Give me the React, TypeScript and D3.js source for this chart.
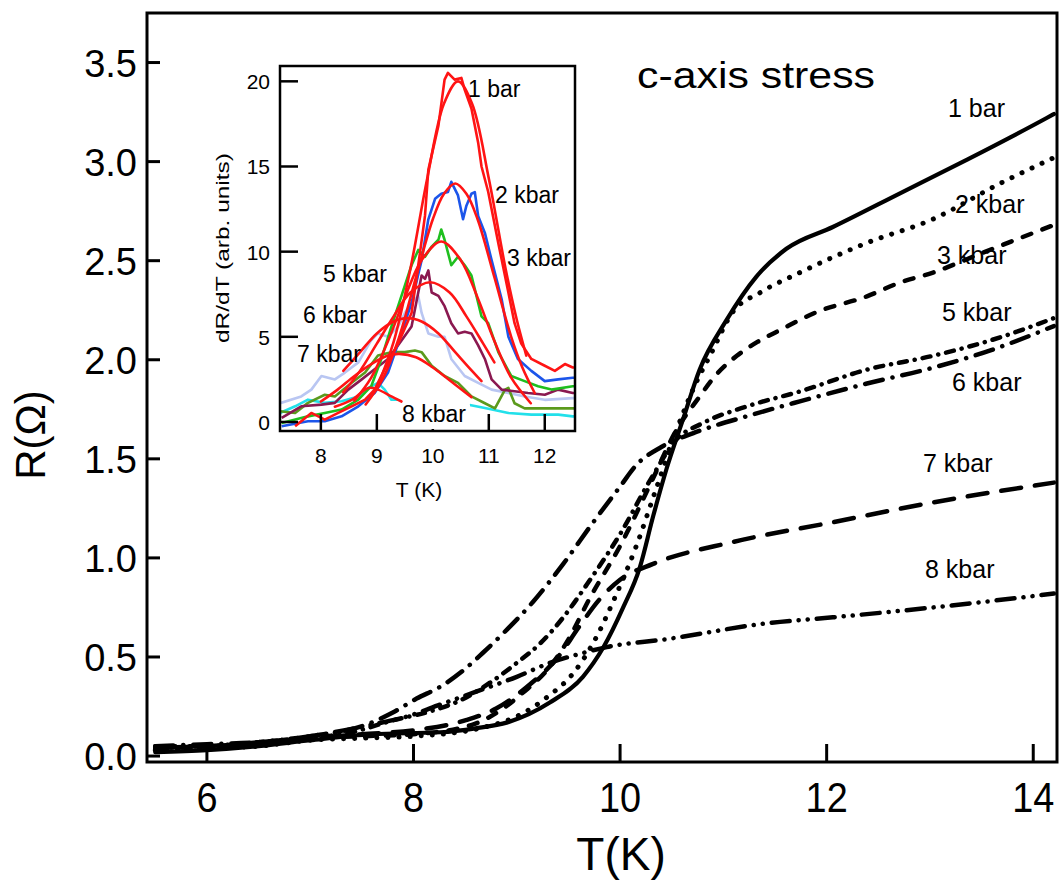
import React from "react";
import * as d3 from "d3";

// ---------- Main panel data: [T (K), R (Ohm)] ----------
const r1bar: [number, number][] = [[5.5,0.02],[6,0.03],[6.5,0.05],[7,0.08],[7.6,0.11],[8.26,0.12],[8.6,0.14],[8.91,0.17],[9.32,0.27],[9.64,0.4],[9.84,0.55],[10.03,0.75],[10.19,0.95],[10.32,1.21],[10.45,1.45],[10.61,1.7],[10.77,1.95],[11.03,2.2],[11.32,2.42],[11.61,2.56],[12.06,2.67],[12.71,2.84],[13.36,3.01],[14.13,3.22],[14.2,3.24]];
const r2kbar: [number, number][] = [[5.5,0.03],[6,0.04],[6.5,0.05],[7,0.08],[7.5,0.09],[8,0.1],[8.64,0.14],[9.0,0.2],[9.3,0.3],[9.55,0.42],[9.75,0.58],[9.95,0.8],[10.15,1.05],[10.35,1.35],[10.55,1.65],[10.75,1.9],[10.87,2.02],[11.09,2.24],[11.36,2.34],[11.74,2.44],[12.39,2.59],[13.03,2.71],[13.68,2.89],[14.2,3.02]];
const r3kbar: [number, number][] = [[5.5,0.04],[6,0.05],[6.5,0.06],[7,0.09],[7.5,0.1],[8,0.11],[8.58,0.16],[8.84,0.23],[9.06,0.32],[9.32,0.45],[9.49,0.58],[9.71,0.8],[10.0,1.06],[10.3,1.38],[10.55,1.65],[10.75,1.8],[10.94,1.93],[11.13,2.02],[11.33,2.09],[11.55,2.15],[11.9,2.24],[12.39,2.32],[12.71,2.39],[13.03,2.44],[13.51,2.54],[14.0,2.64],[14.2,2.68]];
const r5kbar: [number, number][] = [[5.5,0.04],[6,0.05],[6.5,0.06],[7,0.09],[7.4,0.12],[7.8,0.18],[8.19,0.23],[8.45,0.28],[8.74,0.37],[9.0,0.47],[9.23,0.57],[9.45,0.7],[9.71,0.89],[10.0,1.12],[10.3,1.4],[10.55,1.6],[10.8,1.68],[11.26,1.77],[11.74,1.84],[12.39,1.95],[13.03,2.02],[13.6,2.1],[14.2,2.21]];
const r6kbar: [number, number][] = [[5.5,0.05],[6,0.06],[6.5,0.07],[7,0.1],[7.55,0.16],[7.8,0.22],[8.03,0.29],[8.26,0.35],[8.5,0.44],[8.67,0.52],[8.87,0.62],[9.16,0.78],[9.45,0.97],[9.74,1.18],[10.0,1.36],[10.16,1.47],[10.4,1.56],[10.71,1.63],[11.26,1.72],[11.74,1.79],[12.39,1.88],[13.03,1.96],[13.6,2.05],[14.2,2.17]];
const r7kbar: [number, number][] = [[5.5,0.05],[6,0.05],[6.5,0.07],[7,0.09],[7.5,0.11],[8,0.13],[8.5,0.18],[8.8,0.24],[9.1,0.35],[9.4,0.5],[9.6,0.65],[9.8,0.79],[10.0,0.89],[10.32,0.97],[11.09,1.08],[12.06,1.18],[13.03,1.28],[14.2,1.38]];
const r8kbar: [number, number][] = [[5.5,0.04],[6,0.05],[6.5,0.07],[7,0.1],[7.61,0.16],[7.94,0.2],[8.26,0.26],[8.58,0.32],[9.0,0.4],[9.32,0.47],[9.64,0.52],[9.87,0.55],[10.45,0.59],[11.42,0.67],[12.06,0.7],[13.03,0.75],[14.2,0.82]];

const mainLabels = ["1 bar", "2 kbar", "3 kbar", "5 kbar", "6 kbar", "7 kbar", "8 kbar"];
const mainYTicks = [0, 0.5, 1.0, 1.5, 2.0, 2.5, 3.0, 3.5];
const mainXTicks = [6, 8, 10, 12, 14];

// ---------- Inset data: [T (K), dR/dT] ----------
const d1bar: [number, number][] = [[7.54,-0.25],[7.83,0.53],[8.07,0.14],[8.31,0.53],[8.55,0.92],[8.79,1.31],[8.96,1.9],[9.14,3.1],[9.38,4.6],[9.62,6.4],[9.74,9.2],[9.86,12.1],[9.92,14.8],[10.1,17.4],[10.21,20.1],[10.27,20.5],[10.39,20.1],[10.51,20.2],[10.57,19.5],[10.69,18.4],[10.81,16.4],[10.87,15.0],[10.99,13.5],[11.17,10.5],[11.35,7.6],[11.46,5.8],[11.58,4.6],[11.76,3.7],[12.0,3.3],[12.18,3.0],[12.36,3.4],[12.5,3.2],[12.6,3.2]];
const d2kbar: [number, number][] = [[7.3,-0.25],[7.77,0.04],[8.07,0.04],[8.37,0.33],[8.67,0.92],[8.96,1.7],[9.2,2.9],[9.38,4.6],[9.62,7.0],[9.8,9.5],[9.92,11.9],[10.04,13.1],[10.15,13.4],[10.27,13.5],[10.33,14.1],[10.45,13.3],[10.54,11.9],[10.6,12.7],[10.69,13.4],[10.75,13.5],[10.81,12.1],[10.93,11.1],[11.05,9.5],[11.23,7.2],[11.35,5.0],[11.52,3.7],[11.76,3.0],[12.0,2.4],[12.24,2.5],[12.5,2.6],[12.6,2.6]];
const d3kbar: [number, number][] = [[7.3,-0.06],[7.77,0.33],[8.07,0.53],[8.37,0.73],[8.67,1.31],[8.9,2.1],[9.08,3.7],[9.26,5.6],[9.5,8.0],[9.62,9.2],[9.74,10.1],[9.86,9.7],[9.98,10.3],[10.1,10.7],[10.15,11.3],[10.21,10.7],[10.33,9.2],[10.45,9.7],[10.57,9.2],[10.69,8.6],[10.87,6.2],[10.99,5.8],[11.17,4.1],[11.4,2.7],[11.64,2.4],[11.88,2.1],[12.12,1.9],[12.5,2.1],[12.6,2.1]];
const d5kbar: [number, number][] = [[7.3,0.24],[7.65,0.92],[8.01,1.02],[8.25,1.12],[8.49,1.9],[8.73,2.5],[8.96,3.1],[9.2,3.7],[9.38,4.5],[9.62,5.6],[9.74,7.6],[9.8,8.6],[9.86,8.4],[9.92,8.9],[9.98,7.6],[10.1,7.4],[10.21,6.8],[10.33,5.8],[10.45,5.2],[10.57,5.3],[10.69,5.2],[10.81,4.5],[10.93,3.7],[11.05,2.5],[11.23,1.9],[11.46,1.8],[11.7,1.7],[12.0,1.6],[12.24,1.9],[12.5,1.7],[12.6,1.7]];
const d6kbar: [number, number][] = [[7.27,1.1],[7.65,1.5],[7.83,1.9],[8.01,2.7],[8.25,2.5],[8.43,2.9],[8.67,3.5],[8.9,4.8],[9.02,5.2],[9.2,5.0],[9.38,5.6],[9.5,6.4],[9.62,7.0],[9.74,7.4],[9.8,6.4],[9.92,5.2],[10.1,5.0],[10.21,5.0],[10.33,3.7],[10.57,2.7],[10.81,2.3],[11.05,1.9],[11.35,1.7],[11.64,1.5],[12.0,1.3],[12.5,1.4],[12.6,1.4]];
const d7kbar: [number, number][] = [[7.27,0.63],[7.54,0.53],[7.77,1.12],[8.07,1.6],[8.25,1.5],[8.55,2.3],[8.79,2.9],[9.02,3.9],[9.26,4.1],[9.5,4.1],[9.68,4.2],[9.8,4.1],[9.98,3.3],[10.21,2.7],[10.45,2.3],[10.69,1.5],[10.93,1.1],[11.11,0.8],[11.29,1.9],[11.35,2.0],[11.46,1.1],[11.64,0.8],[12.0,0.8],[12.5,0.8],[12.6,0.8]];
const d8kbarLow: [number, number][] = [[7.27,0.53],[7.54,0.92],[7.77,1.31],[8.07,1.12],[8.37,1.22],[8.67,1.5],[8.85,2.0],[9.02,2.3],[9.14,1.9],[9.26,1.31],[9.38,1.31]];
const d8kbarHigh: [number, number][] = [[10.66,1.0],[10.93,0.82],[11.35,0.53],[11.76,0.43],[12.24,0.43],[12.5,0.33],[12.6,0.33]];

const f1bar: [number, number][] = [[9.0,2.0],[9.3,4.7],[9.6,9.0],[9.9,14.3],[10.2,18.7],[10.45,20.0],[10.7,18.7],[11.0,14.3],[11.3,9.0],[11.5,6.0],[11.67,3.9]];
const f2kbar: [number, number][] = [[8.8,1.03],[9.1,2.5],[9.4,5.0],[9.7,8.5],[10.0,11.9],[10.2,13.4],[10.4,14.0],[10.6,13.4],[10.8,11.9],[11.1,8.5],[11.4,5.0],[11.6,3.2],[11.82,1.7]];
const f3kbar: [number, number][] = [[8.6,1.25],[8.9,2.6],[9.2,4.75],[9.5,7.3],[9.8,9.5],[10.15,10.6],[10.5,9.5],[10.8,7.3],[11.1,4.75],[11.4,2.6],[11.75,1.1]];
const f5kbar: [number, number][] = [[8.4,1.74],[8.7,3.0],[9.0,4.6],[9.3,6.2],[9.6,7.6],[9.95,8.2],[10.3,7.6],[10.6,6.2],[10.9,4.6],[11.1,3.5]];
const f6kbar: [number, number][] = [[8.4,3.0],[8.7,4.1],[9.0,5.2],[9.3,5.9],[9.55,6.1],[9.8,5.9],[10.1,5.2],[10.4,4.1],[10.7,3.0],[10.87,2.4]];
const f7kbar: [number, number][] = [[8.0,1.2],[8.3,1.9],[8.6,2.7],[8.9,3.4],[9.2,3.9],[9.4,4.0],[9.7,3.8],[10.0,3.2],[10.3,2.45],[10.69,1.46]];
const f8kbar: [number, number][] = [[8.25,0.9],[8.55,1.3],[8.85,2.0],[9.02,1.9],[9.26,1.5],[9.44,1.2]];

const insetYTicks = [0, 5, 10, 15, 20];
const insetXTicks = [8, 9, 10, 11, 12];

const FONT = "'Liberation Sans', Arial, Helvetica, sans-serif";

export default function App() {
  const X = d3.scaleLinear().domain([5.42, 14.23]).range([147, 1057]);
  const Y = d3.scaleLinear().domain([-0.03, 3.75]).range([762, 13]);
  const IX = d3.scaleLinear().domain([7.27, 12.54]).range([280, 575]);
  const IY = d3.scaleLinear().domain([-0.53, 20.9]).range([431, 66]);

  const mainLine = d3.line<[number, number]>().x(d => X(d[0])).y(d => Y(d[1])).curve(d3.curveMonotoneX);
  const insetLine = d3.line<[number, number]>().x(d => IX(d[0])).y(d => IY(d[1])).curve(d3.curveLinear);
  const fitLine = d3.line<[number, number]>().x(d => IX(d[0])).y(d => IY(d[1])).curve(d3.curveCatmullRom);

  const mainSeries = [
    { data: r1bar, dash: "none", w: 4.2 },
    { data: r2kbar, dash: "0.1,11", w: 5 },
    { data: r3kbar, dash: "9,12", w: 4.5 },
    { data: r5kbar, dash: "8,8,0.1,8", w: 4.5 },
    { data: r6kbar, dash: "18,10,0.1,10", w: 4.5 },
    { data: r7kbar, dash: "20,14", w: 4.5 },
    { data: r8kbar, dash: "18,9,0.1,9,0.1,9", w: 4.5 },
  ];
  const mainLabelPos = [[948,117],[955,213],[937,264],[942,321],[952,391],[923,472],[925,578]];

  const insetData = [
    { data: d6kbar, color: "#b9c6f2" },
    { data: d8kbarLow, color: "#22e0ea" },
    { data: d8kbarHigh, color: "#22e0ea" },
    { data: d7kbar, color: "#5b9a1c" },
    { data: d5kbar, color: "#8a1850" },
    { data: d3kbar, color: "#1fbf1f" },
    { data: d2kbar, color: "#1c55ea" },
    { data: d1bar, color: "#ff1414" },
  ];
  const fits = [f1bar, f2kbar, f3kbar, f5kbar, f6kbar, f7kbar, f8kbar];
  const insetLabelPos = [[468,97],[495,203],[507,266],[323,282],[303,323],[297,362],[402,422]];

  return (
    <svg width={1061} height={882} style={{ position: "absolute", left: 0, top: 0, background: "#fff" }} fontFamily={FONT}>
      <defs>
        <clipPath id="mainClip"><rect x={147} y={13} width={910} height={749} /></clipPath>
        <clipPath id="insetClip"><rect x={280} y={66} width={295} height={365} /></clipPath>
      </defs>
      <rect x={0} y={0} width={1061} height={882} fill="#fff" />

      {/* main curves */}
      <g clipPath="url(#mainClip)">
        {mainSeries.map((s, i) => (
          <path key={i} d={mainLine(s.data) || ""} fill="none" stroke="#000" strokeWidth={s.w}
            strokeDasharray={s.dash} strokeLinecap="round" strokeLinejoin="round" />
        ))}
      </g>

      {/* main frame */}
      <rect x={147} y={13} width={910} height={749} fill="none" stroke="#000" strokeWidth={3} />
      {mainYTicks.map(v => (
        <g key={"y" + v}>
          <line x1={147} x2={160} y1={Y(v)} y2={Y(v)} stroke="#000" strokeWidth={3} />
          <text x={137} y={Y(v) + 14} fontSize={38} textAnchor="end">{v.toFixed(1)}</text>
        </g>
      ))}
      {mainXTicks.map(v => (
        <g key={"x" + v}>
          <line x1={X(v)} x2={X(v)} y1={762} y2={744} stroke="#000" strokeWidth={3} />
          <text transform={`translate(${X(v)},812) scale(0.88,1)`} fontSize={43} textAnchor="middle">{v}</text>
        </g>
      ))}
      <text x={621} y={870} fontSize={46} textAnchor="middle">T(K)</text>
      <text transform="translate(45,435) rotate(-90)" fontSize={42} textAnchor="middle">R(Ω)</text>
      <text x={637} y={88} fontSize={36} textLength={238} lengthAdjust="spacingAndGlyphs">c-axis stress</text>
      {mainLabels.map((l, i) => (
        <text key={l} x={mainLabelPos[i][0]} y={mainLabelPos[i][1]} fontSize={25}>{l}</text>
      ))}

      {/* inset */}
      <rect x={280} y={66} width={295} height={365} fill="#fff" />
      <g clipPath="url(#insetClip)">
        {insetData.map((s, i) => (
          <path key={i} d={insetLine(s.data) || ""} fill="none" stroke={s.color} strokeWidth={2.6} strokeLinejoin="round" />
        ))}
        {fits.map((f, i) => (
          <path key={"f" + i} d={fitLine(f) || ""} fill="none" stroke="#ff1414" strokeWidth={2.6} strokeLinecap="round" />
        ))}
      </g>
      {insetYTicks.map(v => (
        <g key={"iy" + v}>
          <line x1={280} x2={298} y1={IY(v)} y2={IY(v)} stroke="#000" strokeWidth={2.5} />
          <text x={270} y={IY(v) + 8} fontSize={21} textAnchor="end">{v}</text>
        </g>
      ))}
      {insetXTicks.map(v => (
        <g key={"ix" + v}>
          <line x1={IX(v)} x2={IX(v)} y1={431} y2={414} stroke="#000" strokeWidth={2.5} />
          <text x={IX(v)} y={463} fontSize={21} textAnchor="middle">{v}</text>
        </g>
      ))}
      <rect x={400} y={405} width={70} height={24} fill="#fff" />
      {mainLabels.map((l, i) => (
        <text key={"il" + l} x={insetLabelPos[i][0]} y={insetLabelPos[i][1]} fontSize={23}>{l}</text>
      ))}
      <rect x={280} y={66} width={295} height={365} fill="none" stroke="#000" strokeWidth={2.5} />
      <text x={419} y={497} fontSize={21} textAnchor="middle">T (K)</text>
      <text transform="translate(229,248) rotate(-90)" fontSize={19} textAnchor="middle" textLength={190} lengthAdjust="spacingAndGlyphs">dR/dT (arb. units)</text>
    </svg>
  );
}
